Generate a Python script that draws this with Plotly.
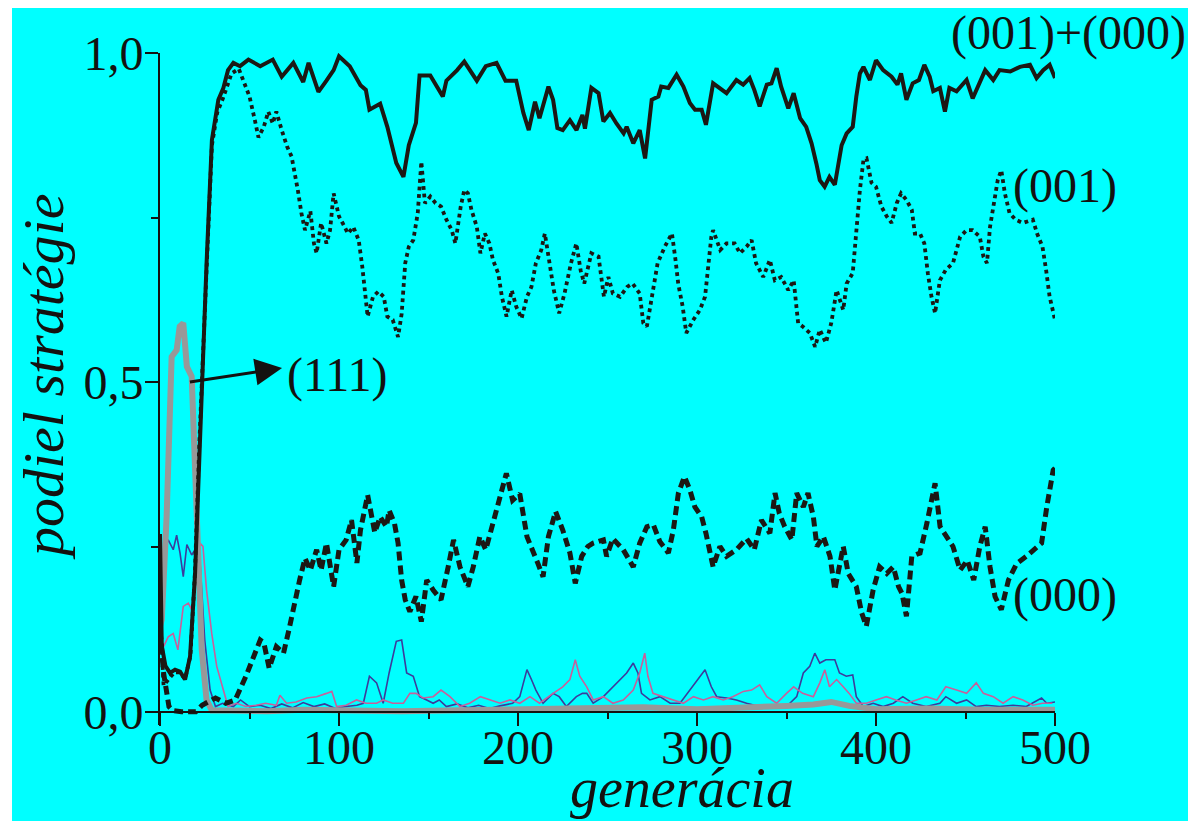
import plotly.graph_objects as go

# ---------------- data ----------------
# (001)+(000)  solid black
sum_gen = [0, 1, 3, 5.6, 8.4, 11.2, 14, 16.8, 19.6, 22.3, 24, 26, 29, 32.6, 35.4, 38, 41, 44.7, 49.4, 56,
           63, 68, 74.5, 80, 83, 88.5, 93, 97, 100, 106, 112, 115, 117, 123, 127, 132, 136, 139, 143, 145,
           151, 154.5, 158, 160, 166, 170, 177, 182, 188, 193, 199, 203, 206, 209.5, 212, 217, 219.6, 222, 225, 229,
           232.7, 236, 237.4, 241, 245, 247.7, 251.4, 255, 259, 260.7, 264.4, 268, 271, 274.7, 278.4, 280, 284, 288.6, 292.4, 296,
           298.9, 302.6, 305, 309, 312.8, 316.5, 322, 325.8, 329.4, 332, 335, 339, 341.6, 344.5, 347, 351, 354, 357.6, 361, 364,
           366.7, 368.6, 371.3, 374, 377, 379, 380.8, 383.6, 387, 389, 391, 393, 396.6, 400, 404, 408.7, 412, 414, 417, 420.5,
           424, 427, 430, 432, 435.7, 438.5, 441, 445, 450.6, 454, 458, 461, 465.5, 469, 475, 480.4, 486, 489.7, 493.4, 497, 500]
sum_val = [0.27, 0.10, 0.07, 0.059, 0.064, 0.061, 0.049, 0.084, 0.21, 0.413, 0.549, 0.68, 0.868, 0.929, 0.947, 0.974, 0.985, 0.98, 0.99, 0.98,
           0.99, 0.964, 0.985, 0.956, 0.985, 0.941, 0.958, 0.974, 0.995, 0.98, 0.951, 0.944, 0.914, 0.923, 0.888, 0.833, 0.812, 0.86, 0.894, 0.966,
           0.966, 0.951, 0.934, 0.958, 0.974, 0.987, 0.958, 0.98, 0.985, 0.958, 0.958, 0.909, 0.883, 0.926, 0.901, 0.949, 0.929, 0.886, 0.883, 0.898,
           0.883, 0.906, 0.885, 0.947, 0.939, 0.896, 0.909, 0.893, 0.878, 0.888, 0.863, 0.883, 0.84, 0.929, 0.934, 0.949, 0.947, 0.967, 0.949, 0.924,
           0.914, 0.914, 0.891, 0.954, 0.947, 0.939, 0.959, 0.952, 0.962, 0.944, 0.919, 0.952, 0.954, 0.977, 0.949, 0.916, 0.939, 0.901, 0.888, 0.863,
           0.832, 0.807, 0.797, 0.812, 0.80, 0.837, 0.86, 0.878, 0.888, 0.934, 0.969, 0.979, 0.959, 0.989, 0.974, 0.964, 0.952, 0.969, 0.929, 0.954,
           0.959, 0.982, 0.964, 0.942, 0.947, 0.911, 0.947, 0.942, 0.959, 0.931, 0.954, 0.974, 0.959, 0.974, 0.972, 0.979, 0.982, 0.962, 0.974, 0.982, 0.962]

# (001)  dotted black
s001_gen = [0, 2, 5, 8, 11, 14, 17, 19.5, 22, 24, 26, 29, 32, 35, 38, 40, 44, 47, 50, 53,
            55, 58, 60.5, 63, 65, 68, 71, 73.5, 75, 77, 79, 81, 84, 86, 87.5, 90, 93, 95, 97, 100,
            102, 105, 108, 111, 113, 114.5, 116, 119, 122, 125, 127, 130, 133, 135, 137, 139, 141.5, 144, 146, 148,
            151, 154, 157, 160, 163, 165, 168, 170, 172, 174, 177, 179, 181.5, 184, 186, 189, 191, 193.6, 196.5, 199,
            202, 205, 207.5, 210, 213, 215, 217.5, 220, 223, 226, 229.6, 232.6, 235, 237, 241, 245, 248, 250.5, 253, 257,
            261, 264, 268, 270, 272, 275, 278, 282, 286, 288, 289.5, 292, 294, 298, 301.6, 304.5, 306, 308, 309, 313,
            316.5, 321, 324, 327.7, 330.5, 333, 337, 340.7, 343.5, 347, 351, 354, 356.5, 359, 363, 366, 368.6, 372, 375, 378,
            381.7, 383.6, 387, 389, 391, 393, 394.7, 397.5, 400, 403, 406, 408.7, 411.6, 414, 417, 420, 421.7, 424.6, 427, 429,
            431, 433, 435.7, 439, 443, 447, 450.6, 454, 458, 460, 462, 463.7, 466.5, 468, 470, 472, 474.6, 478, 482, 487.6,
            490, 493, 495, 497, 500]
s001_val = [0.15, 0.04, 0.05, 0.06, 0.06, 0.05, 0.085, 0.21, 0.41, 0.55, 0.67, 0.86, 0.91, 0.93, 0.955, 0.969, 0.976, 0.953, 0.934, 0.898,
            0.872, 0.888, 0.911, 0.893, 0.911, 0.883, 0.858, 0.843, 0.822, 0.792, 0.757, 0.731, 0.76, 0.711, 0.696, 0.742, 0.711, 0.731, 0.787, 0.752,
            0.742, 0.726, 0.736, 0.716, 0.676, 0.64, 0.60, 0.63, 0.638, 0.63, 0.60, 0.595, 0.569, 0.604, 0.681, 0.706, 0.716, 0.757, 0.835, 0.772,
            0.782, 0.772, 0.767, 0.747, 0.731, 0.711, 0.767, 0.792, 0.787, 0.762, 0.736, 0.696, 0.726, 0.711, 0.686, 0.665, 0.63, 0.60, 0.64, 0.615,
            0.597, 0.63, 0.645, 0.681, 0.701, 0.726, 0.681, 0.64, 0.605, 0.635, 0.681, 0.711, 0.67, 0.65, 0.696, 0.691, 0.63, 0.66, 0.635, 0.63,
            0.645, 0.65, 0.635, 0.59, 0.585, 0.635, 0.681, 0.706, 0.726, 0.686, 0.65, 0.615, 0.575, 0.595, 0.61, 0.63, 0.671, 0.721, 0.731, 0.701,
            0.711, 0.711, 0.696, 0.706, 0.716, 0.681, 0.66, 0.686, 0.655, 0.66, 0.64, 0.655, 0.59, 0.585, 0.575, 0.554, 0.58, 0.56, 0.59, 0.64,
            0.61, 0.65, 0.666, 0.731, 0.792, 0.838, 0.84, 0.803, 0.797, 0.767, 0.752, 0.742, 0.772, 0.787, 0.777, 0.762, 0.726, 0.726, 0.711, 0.665,
            0.63, 0.605, 0.655, 0.671, 0.681, 0.721, 0.731, 0.731, 0.721, 0.691, 0.681, 0.736, 0.782, 0.807, 0.822, 0.787, 0.757, 0.747, 0.742, 0.747,
            0.726, 0.706, 0.671, 0.63, 0.595]

# (000)  dashed black
s000_gen = [0, 2, 5, 7, 12, 20, 23.5, 31, 36.7, 42, 48, 53, 56, 58, 61, 65, 69, 72, 75, 78,
            81, 84, 87.5, 90, 93, 97, 100, 104, 107, 110, 112, 116, 120, 123, 126.5, 128, 131, 133, 135, 137,
            139.6, 143, 146, 149, 152.6, 157, 161, 164, 167.6, 172, 175, 178.7, 182, 186, 190, 193.5, 197, 201, 205, 207.5,
            211, 214, 217, 221, 225, 229, 232, 235.6, 239, 242, 247.7, 249.5, 253, 258.8, 264.4, 268, 272, 275.6, 279.3, 284,
            286.8, 289.6, 293, 296, 298.8, 302.6, 305, 309, 312.8, 316.5, 322, 327.7, 332, 336, 340.7, 343.6, 346, 349, 353, 355.7,
            359.4, 362, 365, 367, 370.6, 374.3, 377, 381.7, 384.5, 389, 392, 394.6, 398.4, 402, 406, 409.7, 412.6, 414.5, 417, 420,
            424.6, 428.4, 433, 435.8, 439.6, 443, 447, 451, 454.6, 458, 461, 463.7, 466.5, 470, 474, 478.6, 484, 488, 492.5, 495.4,
            499, 500]
s000_val = [0.124, 0.059, 0.008, 0.002, 0.0, 0.0, 0.01, 0.021, 0.013, 0.018, 0.054, 0.089, 0.109, 0.105, 0.066, 0.099, 0.089, 0.124, 0.165, 0.20,
            0.233, 0.215, 0.246, 0.215, 0.256, 0.19, 0.246, 0.261, 0.291, 0.226, 0.276, 0.329, 0.272, 0.296, 0.281, 0.306, 0.286, 0.256, 0.20, 0.17,
            0.152, 0.175, 0.137, 0.20, 0.185, 0.17, 0.22, 0.261, 0.22, 0.19, 0.22, 0.266, 0.246, 0.286, 0.321, 0.362, 0.321, 0.331, 0.266, 0.251,
            0.226, 0.205, 0.266, 0.304, 0.276, 0.241, 0.195, 0.236, 0.251, 0.256, 0.261, 0.236, 0.263, 0.246, 0.22, 0.256, 0.281, 0.284, 0.258, 0.241,
            0.276, 0.332, 0.357, 0.337, 0.311, 0.296, 0.271, 0.22, 0.251, 0.236, 0.246, 0.263, 0.246, 0.291, 0.271, 0.332, 0.301, 0.281, 0.261, 0.332,
            0.311, 0.332, 0.296, 0.251, 0.266, 0.236, 0.185, 0.251, 0.21, 0.19, 0.15, 0.13, 0.185, 0.22, 0.21, 0.22, 0.19, 0.18, 0.145, 0.236,
            0.241, 0.286, 0.347, 0.281, 0.266, 0.251, 0.215, 0.23, 0.20, 0.251, 0.281, 0.22, 0.175, 0.155, 0.20, 0.225, 0.236, 0.246, 0.256, 0.311,
            0.367, 0.37]

# (111)  thick grey
s111_gen = [0, 1, 3.7, 6.5, 9.3, 11, 13, 15, 17.7, 19.6, 21.4, 23.3, 26, 29, 40, 60, 80, 100, 120, 135,
            160, 200, 230, 250, 270, 300, 330, 350, 365, 375, 385, 400, 430, 460, 500]
s111_val = [0.13, 0.14, 0.296, 0.539, 0.549, 0.585, 0.59, 0.524, 0.509, 0.372, 0.221, 0.095, 0.018, 0.002, 0.002, 0.001, 0.003, 0.002, 0.003, 0.001,
            0.002, 0.004, 0.006, 0.008, 0.007, 0.004, 0.006, 0.009, 0.011, 0.015, 0.009, 0.004, 0.005, 0.003, 0.003]

# thin blue strategy
blue_gen = [0, 2, 4.6, 7.4, 9.3, 11.2, 13, 15, 17.7, 19.6, 22.3, 25, 28, 31, 35, 41, 45, 50, 56, 62,
            68, 74, 80, 86, 92, 98, 104, 110, 113.6, 117, 121, 124.7, 128, 132, 135, 137.8, 141.5, 145, 149, 152.6,
            156, 160, 166, 172, 178, 184, 190, 197, 201, 205, 207.5, 210, 214, 219.6, 223, 227, 232.6, 236, 238.4, 242,
            247.7, 253, 257, 260.7, 264.4, 267, 269, 273.7, 279.3, 285, 290.5, 296, 300.8, 304.5, 308, 311, 316.5, 322, 327.7, 335,
            342.6, 350, 355.7, 359.4, 363, 365.8, 368.6, 372, 377, 379.6, 383.4, 387, 389, 392.9, 398.4, 404, 409.7, 415, 420.5, 428,
            435.7, 439, 445, 450.6, 456, 461.7, 469, 476.6, 484, 492.5, 495.4, 500]
blue_val = [0.124, 0.241, 0.261, 0.246, 0.268, 0.241, 0.205, 0.254, 0.238, 0.246, 0.23, 0.109, 0.033, 0.008, 0.013, 0.008, 0.018, 0.008, 0.01, 0.005,
            0.012, 0.006, 0.014, 0.008, 0.012, 0.005, 0.008, 0.01, 0.013, 0.054, 0.044, 0.013, 0.059, 0.107, 0.109, 0.059, 0.054, 0.023, 0.018, 0.013,
            0.018, 0.008, 0.012, 0.006, 0.01, 0.005, 0.009, 0.013, 0.023, 0.064, 0.049, 0.033, 0.013, 0.028, 0.023, 0.008, 0.023, 0.028, 0.028, 0.013,
            0.023, 0.038, 0.049, 0.059, 0.074, 0.059, 0.028, 0.018, 0.023, 0.013, 0.013, 0.033, 0.049, 0.064, 0.038, 0.023, 0.021, 0.018, 0.013, 0.008,
            0.008, 0.008, 0.023, 0.059, 0.069, 0.089, 0.074, 0.079, 0.079, 0.059, 0.054, 0.056, 0.023, 0.008, 0.013, 0.008, 0.013, 0.023, 0.013, 0.008,
            0.013, 0.023, 0.013, 0.018, 0.008, 0.01, 0.008, 0.01, 0.008, 0.021, 0.013, 0.015]

# thin pink strategy
pink_gen = [0, 2, 4.6, 7.4, 10, 13, 15.8, 17.7, 19.6, 22.3, 24, 26, 28.9, 31.7, 35.4, 38, 42.6, 48, 53.6, 59,
            65, 67, 70.7, 76, 82, 87.5, 93, 96, 98.7, 104, 109.8, 115, 121, 124.7, 130, 136, 139.6, 143, 147, 152.6,
            157, 162, 167.6, 173, 179, 184.3, 190, 195.5, 201, 206.7, 212, 219.6, 225, 229, 232, 234.5, 238.4, 242, 247.7, 253,
            258.8, 264.4, 268, 270.8, 272.6, 275.4, 281, 286.8, 292.4, 298, 303.6, 309, 314.7, 320, 325.9, 330.5, 335, 339, 344.5, 350,
            354, 359, 365, 368.6, 371.4, 374, 378, 381.7, 385, 389, 394.6, 400, 405.8, 411, 417, 422.6, 428, 434, 439, 445,
            450.6, 456, 460, 465.5, 471, 476.6, 482, 487.6, 493, 498.5]
pink_val = [0.114, 0.099, 0.114, 0.119, 0.094, 0.16, 0.165, 0.155, 0.185, 0.256, 0.251, 0.185, 0.119, 0.069, 0.033, 0.008, 0.013, 0.008, 0.01, 0.013,
            0.01, 0.025, 0.013, 0.015, 0.021, 0.023, 0.028, 0.031, 0.008, 0.01, 0.018, 0.013, 0.013, 0.018, 0.013, 0.013, 0.028, 0.028, 0.021, 0.023,
            0.033, 0.023, 0.008, 0.013, 0.023, 0.018, 0.013, 0.018, 0.013, 0.023, 0.013, 0.028, 0.038, 0.049, 0.079, 0.054, 0.038, 0.018, 0.023, 0.013,
            0.018, 0.033, 0.059, 0.089, 0.054, 0.028, 0.023, 0.018, 0.013, 0.023, 0.018, 0.023, 0.018, 0.023, 0.031, 0.033, 0.041, 0.023, 0.013, 0.028,
            0.038, 0.028, 0.023, 0.044, 0.064, 0.038, 0.049, 0.038, 0.028, 0.013, 0.013, 0.018, 0.023, 0.018, 0.013, 0.018, 0.023, 0.018, 0.038, 0.033,
            0.028, 0.044, 0.028, 0.023, 0.013, 0.023, 0.018, 0.01, 0.013, 0.013]

x_ticks = [0, 100, 200, 300, 400, 500]
y_ticks = [0.0, 0.5, 1.0]
y_tick_text = ["0,0", "0,5", "1,0"]

# ---------------- figure ----------------
SERIF = "Liberation Serif"
INK = "#141210"
BLACK_LINE = "#1c1814"

# page body keeps an 8 px white margin; the figure sits inside it
FIG_W, FIG_H = 1188, 813
ML, MR, MT, MB = 152, 141, 45, 96
PW = FIG_W - ML - MR   # 895
PH = FIG_H - MT - MB   # 672

fig = go.Figure()
fig.add_trace(go.Scatter(x=blue_gen, y=blue_val, mode="lines", line=dict(color="#3c3c9c", width=1.6), showlegend=False))
fig.add_trace(go.Scatter(x=pink_gen, y=pink_val, mode="lines", line=dict(color="#c8609c", width=1.6), showlegend=False))
fig.add_trace(go.Scatter(x=s111_gen, y=s111_val, mode="lines", line=dict(color="#989898", width=6), showlegend=False))
fig.add_trace(go.Scatter(x=s000_gen, y=s000_val, mode="lines", line=dict(color=BLACK_LINE, width=5, dash="9px,5px"), showlegend=False))
fig.add_trace(go.Scatter(x=s001_gen, y=s001_val, mode="lines", line=dict(color=BLACK_LINE, width=3.8, dash="dot"), showlegend=False))
fig.add_trace(go.Scatter(x=sum_gen, y=sum_val, mode="lines", line=dict(color=BLACK_LINE, width=4), showlegend=False))

YMIN = -0.02
YMAX = 1.0
x_axis_pos = (0 - YMIN) / (YMAX - YMIN)

fig.update_layout(
    width=FIG_W, height=FIG_H,
    margin=dict(l=ML, r=MR, t=MT, b=MB, autoexpand=False),
    paper_bgcolor="#00FFFF", plot_bgcolor="#00FFFF",
    font=dict(family=SERIF, color=INK),
    xaxis=dict(range=[0, 500], anchor="free", position=x_axis_pos, automargin=False,
               tickvals=x_ticks, ticks="outside", ticklen=13, tickwidth=2, tickcolor=INK,
               ticklabelstandoff=-19,
               showline=True, linewidth=2, linecolor=INK, showgrid=False, zeroline=False,
               tickfont=dict(family=SERIF, size=48, color=INK),
               minor=dict(ticks="outside", ticklen=6, tickwidth=2, tickcolor=INK, dtick=50, tick0=0, showgrid=False)),
    yaxis=dict(range=[YMIN, YMAX], anchor="x", automargin=False,
               tickvals=y_ticks, ticktext=y_tick_text, ticks="outside", ticklen=13, tickwidth=2, tickcolor=INK,
               ticklabelstandoff=-8,
               showline=True, linewidth=2, linecolor=INK, showgrid=False, zeroline=False,
               tickfont=dict(family=SERIF, size=48, color=INK),
               minor=dict(ticks="outside", ticklen=7, tickwidth=2, tickcolor=INK, tickvals=[0.25, 0.75], showgrid=False)),
)

# thin white strip at the left edge of the page
fig.add_shape(type="rect", xref="paper", yref="paper", x0=-ML / PW - 0.01, x1=(4 - ML) / PW, y0=-0.3, y1=1.3,
              fillcolor="white", line=dict(width=0), layer="above")

def px_to_paper(px, py):
    # px, py measured on the full page (8 px body margin included)
    return (px - 8 - ML) / PW, 1 - (py - 8 - MT) / PH

# axis titles
gx, gy = px_to_paper(682, 788)
fig.add_annotation(text="<i>generácia</i>", x=gx, y=gy, xref="paper", yref="paper",
                   showarrow=False, xanchor="center", yanchor="middle",
                   font=dict(family=SERIF, size=56, color=INK))
px_, py_ = px_to_paper(43, 377)
fig.add_annotation(text="<i>podiel stratégie</i>", x=px_, y=py_, xref="paper", yref="paper",
                   showarrow=False, xanchor="center", yanchor="middle", textangle=-90,
                   font=dict(family=SERIF, size=58, color=INK))

# series labels
for label, (cx, cy) in [("(001)+(000)", (1068, 33)), ("(001)", (1065, 186)),
                        ("(000)", (1065, 595)), ("(111)", (337, 375))]:
    ax_, ay_ = px_to_paper(cx, cy)
    fig.add_annotation(text=label, x=ax_, y=ay_, xref="paper", yref="paper",
                       showarrow=False, xanchor="center", yanchor="middle",
                       font=dict(family=SERIF, size=48, color=INK))

# arrow pointing from the grey (111) curve to its label
fig.add_annotation(text=" ", x=68.2, y=0.522, xref="x", yref="y",
                   ax=15.6, ay=0.50, axref="x", ayref="y",
                   showarrow=True, arrowhead=2, arrowsize=1.8, arrowwidth=3, arrowcolor=INK,
                   font=dict(size=2))

fig.write_html("out.html")
